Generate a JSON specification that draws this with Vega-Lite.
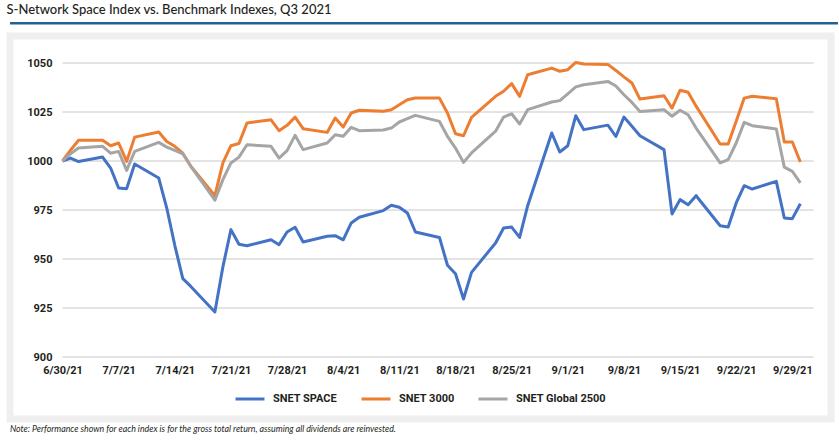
{
  "$schema": "https://vega.github.io/schema/vega-lite/v6.json",
  "background": "white",
  "padding": {"left": 6, "top": 3, "right": 5, "bottom": 0},
  "title": {"text": "S-Network Space Index vs. Benchmark Indexes, Q3 2021", "anchor": "start", "frame": "bounds", "offset": 4, "font": "Lato", "fontSize": 13, "fontWeight": 500, "color": "#231f20"},
  "config": {"view": {"stroke": null}, "concat": {"spacing": 6}},
  "datasets": {
    "grid": [{"value": 900}, {"value": 925}, {"value": 950}, {"value": 975}, {"value": 1000}, {"value": 1025}, {"value": 1050}],
    "idx": [
      {"date": "2021-06-30", "series": "SNET SPACE", "value": 1000}, {"date": "2021-06-30", "series": "SNET 3000", "value": 1000}, {"date": "2021-06-30", "series": "SNET Global 2500", "value": 1000},
      {"date": "2021-07-01", "series": "SNET SPACE", "value": 1001.5}, {"date": "2021-07-01", "series": "SNET 3000", "value": 1005.5}, {"date": "2021-07-01", "series": "SNET Global 2500", "value": 1003.7},
      {"date": "2021-07-02", "series": "SNET SPACE", "value": 999.7}, {"date": "2021-07-02", "series": "SNET 3000", "value": 1010.6}, {"date": "2021-07-02", "series": "SNET Global 2500", "value": 1006.6},
      {"date": "2021-07-05", "series": "SNET SPACE", "value": 1002}, {"date": "2021-07-05", "series": "SNET 3000", "value": 1010.6}, {"date": "2021-07-05", "series": "SNET Global 2500", "value": 1007.5},
      {"date": "2021-07-06", "series": "SNET SPACE", "value": 996.4}, {"date": "2021-07-06", "series": "SNET 3000", "value": 1007.8}, {"date": "2021-07-06", "series": "SNET Global 2500", "value": 1004},
      {"date": "2021-07-07", "series": "SNET SPACE", "value": 986.2}, {"date": "2021-07-07", "series": "SNET 3000", "value": 1009.2}, {"date": "2021-07-07", "series": "SNET Global 2500", "value": 1004.9},
      {"date": "2021-07-08", "series": "SNET SPACE", "value": 985.9}, {"date": "2021-07-08", "series": "SNET 3000", "value": 999.8}, {"date": "2021-07-08", "series": "SNET Global 2500", "value": 995.2},
      {"date": "2021-07-09", "series": "SNET SPACE", "value": 998.5}, {"date": "2021-07-09", "series": "SNET 3000", "value": 1012.2}, {"date": "2021-07-09", "series": "SNET Global 2500", "value": 1004.9},
      {"date": "2021-07-12", "series": "SNET SPACE", "value": 991.3}, {"date": "2021-07-12", "series": "SNET 3000", "value": 1014.8}, {"date": "2021-07-12", "series": "SNET Global 2500", "value": 1009.5},
      {"date": "2021-07-13", "series": "SNET SPACE", "value": 976}, {"date": "2021-07-13", "series": "SNET 3000", "value": 1010}, {"date": "2021-07-13", "series": "SNET Global 2500", "value": 1007.1},
      {"date": "2021-07-14", "series": "SNET SPACE", "value": 957}, {"date": "2021-07-14", "series": "SNET 3000", "value": 1007.5}, {"date": "2021-07-14", "series": "SNET Global 2500", "value": 1005.4},
      {"date": "2021-07-15", "series": "SNET SPACE", "value": 940}, {"date": "2021-07-15", "series": "SNET 3000", "value": 1004}, {"date": "2021-07-15", "series": "SNET Global 2500", "value": 1003.7},
      {"date": "2021-07-16", "series": "SNET SPACE", "value": 936}, {"date": "2021-07-16", "series": "SNET 3000", "value": 997.3}, {"date": "2021-07-16", "series": "SNET Global 2500", "value": 997.3},
      {"date": "2021-07-19", "series": "SNET SPACE", "value": 923}, {"date": "2021-07-19", "series": "SNET 3000", "value": 982.3}, {"date": "2021-07-19", "series": "SNET Global 2500", "value": 980},
      {"date": "2021-07-20", "series": "SNET SPACE", "value": 946}, {"date": "2021-07-20", "series": "SNET 3000", "value": 999}, {"date": "2021-07-20", "series": "SNET Global 2500", "value": 990.5},
      {"date": "2021-07-21", "series": "SNET SPACE", "value": 965}, {"date": "2021-07-21", "series": "SNET 3000", "value": 1007.8}, {"date": "2021-07-21", "series": "SNET Global 2500", "value": 999},
      {"date": "2021-07-22", "series": "SNET SPACE", "value": 957.5}, {"date": "2021-07-22", "series": "SNET 3000", "value": 1008.9}, {"date": "2021-07-22", "series": "SNET Global 2500", "value": 1002},
      {"date": "2021-07-23", "series": "SNET SPACE", "value": 956.8}, {"date": "2021-07-23", "series": "SNET 3000", "value": 1019.4}, {"date": "2021-07-23", "series": "SNET Global 2500", "value": 1008.3},
      {"date": "2021-07-26", "series": "SNET SPACE", "value": 959.8}, {"date": "2021-07-26", "series": "SNET 3000", "value": 1021}, {"date": "2021-07-26", "series": "SNET Global 2500", "value": 1007.5},
      {"date": "2021-07-27", "series": "SNET SPACE", "value": 957.3}, {"date": "2021-07-27", "series": "SNET 3000", "value": 1015.5}, {"date": "2021-07-27", "series": "SNET Global 2500", "value": 1001.5},
      {"date": "2021-07-28", "series": "SNET SPACE", "value": 963.8}, {"date": "2021-07-28", "series": "SNET 3000", "value": 1018.2}, {"date": "2021-07-28", "series": "SNET Global 2500", "value": 1005.3},
      {"date": "2021-07-29", "series": "SNET SPACE", "value": 966.2}, {"date": "2021-07-29", "series": "SNET 3000", "value": 1022.4}, {"date": "2021-07-29", "series": "SNET Global 2500", "value": 1013.1},
      {"date": "2021-07-30", "series": "SNET SPACE", "value": 958.7}, {"date": "2021-07-30", "series": "SNET 3000", "value": 1016.5}, {"date": "2021-07-30", "series": "SNET Global 2500", "value": 1005.8},
      {"date": "2021-08-02", "series": "SNET SPACE", "value": 961.6}, {"date": "2021-08-02", "series": "SNET 3000", "value": 1014.6}, {"date": "2021-08-02", "series": "SNET Global 2500", "value": 1009.2},
      {"date": "2021-08-03", "series": "SNET SPACE", "value": 961.9}, {"date": "2021-08-03", "series": "SNET 3000", "value": 1021.9}, {"date": "2021-08-03", "series": "SNET Global 2500", "value": 1013.4},
      {"date": "2021-08-04", "series": "SNET SPACE", "value": 959.8}, {"date": "2021-08-04", "series": "SNET 3000", "value": 1017.3}, {"date": "2021-08-04", "series": "SNET Global 2500", "value": 1012.6},
      {"date": "2021-08-05", "series": "SNET SPACE", "value": 968.4}, {"date": "2021-08-05", "series": "SNET 3000", "value": 1024.5}, {"date": "2021-08-05", "series": "SNET Global 2500", "value": 1017.2},
      {"date": "2021-08-06", "series": "SNET SPACE", "value": 971.3}, {"date": "2021-08-06", "series": "SNET 3000", "value": 1025.9}, {"date": "2021-08-06", "series": "SNET Global 2500", "value": 1015.5},
      {"date": "2021-08-09", "series": "SNET SPACE", "value": 974.7}, {"date": "2021-08-09", "series": "SNET 3000", "value": 1025.4}, {"date": "2021-08-09", "series": "SNET Global 2500", "value": 1015.8},
      {"date": "2021-08-10", "series": "SNET SPACE", "value": 977.4}, {"date": "2021-08-10", "series": "SNET 3000", "value": 1026.2}, {"date": "2021-08-10", "series": "SNET Global 2500", "value": 1016.8},
      {"date": "2021-08-11", "series": "SNET SPACE", "value": 976.4}, {"date": "2021-08-11", "series": "SNET 3000", "value": 1028.7}, {"date": "2021-08-11", "series": "SNET Global 2500", "value": 1019.9},
      {"date": "2021-08-12", "series": "SNET SPACE", "value": 973.5}, {"date": "2021-08-12", "series": "SNET 3000", "value": 1031.3}, {"date": "2021-08-12", "series": "SNET Global 2500", "value": 1021.6},
      {"date": "2021-08-13", "series": "SNET SPACE", "value": 963.8}, {"date": "2021-08-13", "series": "SNET 3000", "value": 1032.1}, {"date": "2021-08-13", "series": "SNET Global 2500", "value": 1023.3},
      {"date": "2021-08-16", "series": "SNET SPACE", "value": 961}, {"date": "2021-08-16", "series": "SNET 3000", "value": 1032.1}, {"date": "2021-08-16", "series": "SNET Global 2500", "value": 1020.2},
      {"date": "2021-08-17", "series": "SNET SPACE", "value": 946.8}, {"date": "2021-08-17", "series": "SNET 3000", "value": 1024.5}, {"date": "2021-08-17", "series": "SNET Global 2500", "value": 1012.6},
      {"date": "2021-08-18", "series": "SNET SPACE", "value": 942.5}, {"date": "2021-08-18", "series": "SNET 3000", "value": 1013.9}, {"date": "2021-08-18", "series": "SNET Global 2500", "value": 1006.6},
      {"date": "2021-08-19", "series": "SNET SPACE", "value": 929.6}, {"date": "2021-08-19", "series": "SNET 3000", "value": 1012.9}, {"date": "2021-08-19", "series": "SNET Global 2500", "value": 999.3},
      {"date": "2021-08-20", "series": "SNET SPACE", "value": 943.2}, {"date": "2021-08-20", "series": "SNET 3000", "value": 1022.3}, {"date": "2021-08-20", "series": "SNET Global 2500", "value": 1004.1},
      {"date": "2021-08-23", "series": "SNET SPACE", "value": 958.2}, {"date": "2021-08-23", "series": "SNET 3000", "value": 1033}, {"date": "2021-08-23", "series": "SNET Global 2500", "value": 1015.2},
      {"date": "2021-08-24", "series": "SNET SPACE", "value": 965.8}, {"date": "2021-08-24", "series": "SNET 3000", "value": 1035.6}, {"date": "2021-08-24", "series": "SNET Global 2500", "value": 1022.4},
      {"date": "2021-08-25", "series": "SNET SPACE", "value": 966.3}, {"date": "2021-08-25", "series": "SNET 3000", "value": 1039.5}, {"date": "2021-08-25", "series": "SNET Global 2500", "value": 1024.1},
      {"date": "2021-08-26", "series": "SNET SPACE", "value": 961}, {"date": "2021-08-26", "series": "SNET 3000", "value": 1033}, {"date": "2021-08-26", "series": "SNET Global 2500", "value": 1018.9},
      {"date": "2021-08-27", "series": "SNET SPACE", "value": 977.2}, {"date": "2021-08-27", "series": "SNET 3000", "value": 1044}, {"date": "2021-08-27", "series": "SNET Global 2500", "value": 1026.2},
      {"date": "2021-08-30", "series": "SNET SPACE", "value": 1014.3}, {"date": "2021-08-30", "series": "SNET 3000", "value": 1047.4}, {"date": "2021-08-30", "series": "SNET Global 2500", "value": 1030.1},
      {"date": "2021-08-31", "series": "SNET SPACE", "value": 1004.6}, {"date": "2021-08-31", "series": "SNET 3000", "value": 1045.8}, {"date": "2021-08-31", "series": "SNET Global 2500", "value": 1030.8},
      {"date": "2021-09-01", "series": "SNET SPACE", "value": 1007.8}, {"date": "2021-09-01", "series": "SNET 3000", "value": 1046.6}, {"date": "2021-09-01", "series": "SNET Global 2500", "value": 1034.3},
      {"date": "2021-09-02", "series": "SNET SPACE", "value": 1023.1}, {"date": "2021-09-02", "series": "SNET 3000", "value": 1050.3}, {"date": "2021-09-02", "series": "SNET Global 2500", "value": 1037.8},
      {"date": "2021-09-03", "series": "SNET SPACE", "value": 1016}, {"date": "2021-09-03", "series": "SNET 3000", "value": 1049.5}, {"date": "2021-09-03", "series": "SNET Global 2500", "value": 1038.9},
      {"date": "2021-09-06", "series": "SNET SPACE", "value": 1018.3}, {"date": "2021-09-06", "series": "SNET 3000", "value": 1049.3}, {"date": "2021-09-06", "series": "SNET Global 2500", "value": 1040.6},
      {"date": "2021-09-07", "series": "SNET SPACE", "value": 1012.5}, {"date": "2021-09-07", "series": "SNET 3000", "value": 1046.2}, {"date": "2021-09-07", "series": "SNET Global 2500", "value": 1038.3},
      {"date": "2021-09-08", "series": "SNET SPACE", "value": 1022.4}, {"date": "2021-09-08", "series": "SNET 3000", "value": 1042.9}, {"date": "2021-09-08", "series": "SNET Global 2500", "value": 1033.8},
      {"date": "2021-09-09", "series": "SNET SPACE", "value": 1017.7}, {"date": "2021-09-09", "series": "SNET 3000", "value": 1039.8}, {"date": "2021-09-09", "series": "SNET Global 2500", "value": 1029.9},
      {"date": "2021-09-10", "series": "SNET SPACE", "value": 1012.9}, {"date": "2021-09-10", "series": "SNET 3000", "value": 1031.6}, {"date": "2021-09-10", "series": "SNET Global 2500", "value": 1025.3},
      {"date": "2021-09-13", "series": "SNET SPACE", "value": 1005.8}, {"date": "2021-09-13", "series": "SNET 3000", "value": 1033.3}, {"date": "2021-09-13", "series": "SNET Global 2500", "value": 1026.2},
      {"date": "2021-09-14", "series": "SNET SPACE", "value": 973}, {"date": "2021-09-14", "series": "SNET 3000", "value": 1027}, {"date": "2021-09-14", "series": "SNET Global 2500", "value": 1022.8},
      {"date": "2021-09-15", "series": "SNET SPACE", "value": 980.3}, {"date": "2021-09-15", "series": "SNET 3000", "value": 1036.1}, {"date": "2021-09-15", "series": "SNET Global 2500", "value": 1025.9},
      {"date": "2021-09-16", "series": "SNET SPACE", "value": 977.7}, {"date": "2021-09-16", "series": "SNET 3000", "value": 1035.1}, {"date": "2021-09-16", "series": "SNET Global 2500", "value": 1023.6},
      {"date": "2021-09-17", "series": "SNET SPACE", "value": 982.3}, {"date": "2021-09-17", "series": "SNET 3000", "value": 1028}, {"date": "2021-09-17", "series": "SNET Global 2500", "value": 1016.8},
      {"date": "2021-09-20", "series": "SNET SPACE", "value": 967}, {"date": "2021-09-20", "series": "SNET 3000", "value": 1008.7}, {"date": "2021-09-20", "series": "SNET Global 2500", "value": 999},
      {"date": "2021-09-21", "series": "SNET SPACE", "value": 966.3}, {"date": "2021-09-21", "series": "SNET 3000", "value": 1008.7}, {"date": "2021-09-21", "series": "SNET Global 2500", "value": 1000.7},
      {"date": "2021-09-22", "series": "SNET SPACE", "value": 978.6}, {"date": "2021-09-22", "series": "SNET 3000", "value": 1020.3}, {"date": "2021-09-22", "series": "SNET Global 2500", "value": 1009.2},
      {"date": "2021-09-23", "series": "SNET SPACE", "value": 987.4}, {"date": "2021-09-23", "series": "SNET 3000", "value": 1032.1}, {"date": "2021-09-23", "series": "SNET Global 2500", "value": 1019.7},
      {"date": "2021-09-24", "series": "SNET SPACE", "value": 985.7}, {"date": "2021-09-24", "series": "SNET 3000", "value": 1033}, {"date": "2021-09-24", "series": "SNET Global 2500", "value": 1018},
      {"date": "2021-09-27", "series": "SNET SPACE", "value": 989.6}, {"date": "2021-09-27", "series": "SNET 3000", "value": 1031.8}, {"date": "2021-09-27", "series": "SNET Global 2500", "value": 1016.3},
      {"date": "2021-09-28", "series": "SNET SPACE", "value": 970.9}, {"date": "2021-09-28", "series": "SNET 3000", "value": 1009.7}, {"date": "2021-09-28", "series": "SNET Global 2500", "value": 996.9},
      {"date": "2021-09-29", "series": "SNET SPACE", "value": 970.6}, {"date": "2021-09-29", "series": "SNET 3000", "value": 1009.7}, {"date": "2021-09-29", "series": "SNET Global 2500", "value": 994.7},
      {"date": "2021-09-30", "series": "SNET SPACE", "value": 978.2}, {"date": "2021-09-30", "series": "SNET 3000", "value": 999.5}, {"date": "2021-09-30", "series": "SNET Global 2500", "value": 988.8}
    ]
  },
  "vconcat": [
    {
      "width": 828,
      "height": 2.5,
      "view": {"fill": "#22628f", "stroke": null},
      "data": {"values": [{}]},
      "mark": {"type": "point", "opacity": 0},
      "encoding": {}
    },
    {
      "width": 821,
      "height": 383,
      "view": {"fill": "white", "stroke": "#efefef", "strokeWidth": 7},
      "title": {"text": "Note: Performance shown for each index is for the gross total return, assuming all dividends are reinvested.", "orient": "bottom", "anchor": "start", "frame": "bounds", "offset": 6, "font": "Lato", "fontSize": 8.8, "fontStyle": "italic", "fontWeight": "normal", "color": "#231f20"},
      "layer": [
        {
          "data": {"name": "grid"},
          "mark": {"type": "rule", "color": "#c8c8c8", "strokeWidth": 1},
          "encoding": {
            "y": {"field": "value", "type": "quantitative", "scale": {"domain": [868.37, 1063.78], "nice": false, "zero": false},
              "axis": {"values": [900, 925, 950, 975, 1000, 1025, 1050], "format": "d", "offset": -45, "labelPadding": 3, "ticks": false, "tickSize": 0, "domain": false, "grid": false, "title": null, "labelFont": "Roboto", "labelFontSize": 11, "labelFontWeight": "bold", "labelColor": "#231f20"}},
            "x": {"datum": {"year": 2021, "month": 6, "date": 30, "utc": true}, "type": "temporal"},
            "x2": {"datum": {"year": 2021, "month": 10, "date": 1, "hours": 16, "utc": true}}
          }
        },
        {
          "data": {"name": "idx"},
          "mark": {"type": "line", "strokeWidth": 3, "strokeJoin": "round"},
          "encoding": {
            "x": {"field": "date", "type": "temporal",
              "scale": {"type": "utc", "domain": [{"year": 2021, "month": 6, "date": 23, "hours": 10, "minutes": 54, "utc": true}, {"year": 2021, "month": 10, "date": 3, "hours": 19, "minutes": 41, "utc": true}], "nice": false},
              "axis": {"values": [
                {"year": 2021, "month": 6, "date": 30, "utc": true}, {"year": 2021, "month": 7, "date": 7, "utc": true}, {"year": 2021, "month": 7, "date": 14, "utc": true}, {"year": 2021, "month": 7, "date": 21, "utc": true}, {"year": 2021, "month": 7, "date": 28, "utc": true}, {"year": 2021, "month": 8, "date": 4, "utc": true}, {"year": 2021, "month": 8, "date": 11, "utc": true}, {"year": 2021, "month": 8, "date": 18, "utc": true}, {"year": 2021, "month": 8, "date": 25, "utc": true}, {"year": 2021, "month": 9, "date": 1, "utc": true}, {"year": 2021, "month": 9, "date": 8, "utc": true}, {"year": 2021, "month": 9, "date": 15, "utc": true}, {"year": 2021, "month": 9, "date": 22, "utc": true}, {"year": 2021, "month": 9, "date": 29, "utc": true}],
                "format": "%-m/%-d/%y", "offset": -62, "labelPadding": 7, "ticks": false, "tickSize": 0, "domain": false, "grid": false, "title": null, "labelOverlap": false, "labelFlush": false, "labelFont": "Roboto", "labelFontSize": 11, "labelFontWeight": "bold", "labelColor": "#231f20"}},
            "y": {"field": "value", "type": "quantitative", "scale": {"domain": [868.37, 1063.78], "nice": false, "zero": false}},
            "color": {"field": "series", "type": "nominal",
              "scale": {"domain": ["SNET SPACE", "SNET 3000", "SNET Global 2500"], "range": ["#4472c4", "#ed7d31", "#a5a5a5"]},
              "legend": {"orient": "none", "direction": "horizontal", "legendX": 224, "legendY": 361, "title": null, "padding": 0, "symbolType": "stroke", "symbolSize": 841, "symbolStrokeWidth": 3, "labelOffset": 7, "columnPadding": 17, "labelFont": "Roboto", "labelFontSize": 11, "labelFontWeight": "bold", "labelColor": "#231f20"}}
          }
        }
      ]
    }
  ]
}
